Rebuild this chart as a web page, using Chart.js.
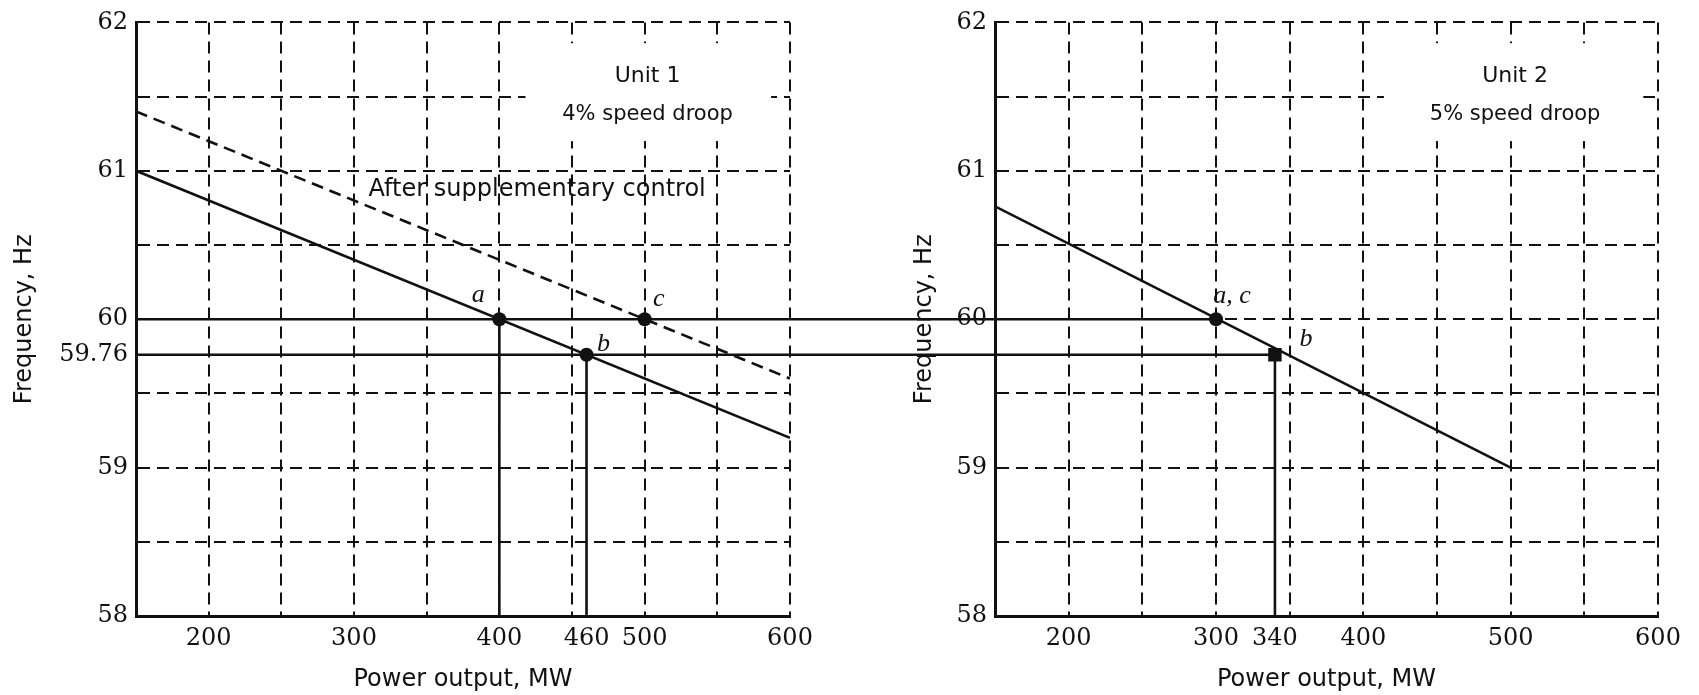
<!DOCTYPE html>
<html>
<head>
<meta charset="utf-8">
<script src="https://cdn.jsdelivr.net/npm/chart.js@4.4.1/dist/chart.umd.min.js"></script>
<style>
  html, body { margin: 0; padding: 0; background: #fff; }
  #wrap { position: relative; width: 1699px; height: 695px; overflow: hidden; background: #fff; }
  #c1 { position: absolute; left: 0; top: 0; }
  #c2 { position: absolute; left: 850px; top: 0; }
</style>
</head>
<body>
<div id="wrap">
  <canvas id="c1" width="995" height="695"></canvas>
  <canvas id="c2" width="849" height="695"></canvas>
</div>
<script>
// ---------------- data ----------------
const powerLimits = [150, 600];   // MW
const freqLimits = [58, 62];      // Hz
const gridPower = [150, 200, 250, 300, 350, 400, 450, 500, 550, 600];
const gridFreq = [58, 58.5, 59, 59.5, 60, 60.5, 61, 61.5, 62];

const unit1XTicks = [200, 300, 400, 460, 500, 600];
const unit1YTicks = [58, 59, 59.76, 60, 61, 62];
const unit2XTicks = [200, 300, 340, 400, 500, 600];
const unit2YTicks = [58, 59, 60, 61, 62];

const unit1DroopPower = [150, 600];
const unit1DroopFreq = [61.0, 59.2];
const unit1SuppPower = [150, 600];
const unit1SuppFreq = [61.4, 59.6];
const unit2DroopPower = [150, 500];
const unit2DroopFreq = [60.76, 59.0];

const nominalFreq = 60;
const newFreq = 59.76;

const unit1PointNames = ['a', 'b', 'c'];
const unit1PointPower = [400, 460, 500];
const unit1PointFreq = [60, 59.76, 60];
const unit1DropPower = [400, 460];
const unit1DropFreq = [60, 59.76];

const unit2PointNames = ['a, c', 'b'];
const unit2PointPower = [300, 340];
const unit2PointFreq = [60, 59.76];
const unit2DropPower = [340];
const unit2DropFreq = [59.76];

const unit1Name = 'Unit 1';
const unit1DroopText = '4% speed droop';
const unit1SuppText = 'After supplementary control';
const unit2Name = 'Unit 2';
const unit2DroopText = '5% speed droop';
const xTitle = 'Power output, MW';
const yTitle = 'Frequency, Hz';

// ---------------- styling ----------------
const INK = '#111';
const SERIF = '"DejaVu Serif", serif';
const SANS = '"DejaVu Sans", sans-serif';
const DASH = [12, 7];

function pts(xs, ys) { return xs.map((v, i) => ({ x: v, y: ys[i] })); }
function lineDs(data, dash) {
  return { type: 'line', data, borderColor: INK, borderWidth: 2.6, borderDash: dash || [],
           pointRadius: 0, showLine: true, fill: false, tension: 0, order: 2 };
}

const marksPlugin = {
  id: 'marks',
  beforeDatasetsDraw(chart, args, opts) {
    const { ctx } = chart; const x = chart.scales.x, y = chart.scales.y;
    ctx.save();
    (opts.boxes || []).forEach(b => {
      const x1 = x.getPixelForValue(b.x1), x2 = x.getPixelForValue(b.x2);
      const y1 = y.getPixelForValue(b.y2), y2 = y.getPixelForValue(b.y1);
      ctx.fillStyle = '#fff';
      ctx.fillRect(x1, y1, x2 - x1, y2 - y1);
    });
    (opts.notes || []).forEach(n => {
      ctx.font = n.font; ctx.fillStyle = INK; ctx.textAlign = n.align || 'center'; ctx.textBaseline = 'middle';
      ctx.fillText(n.text, x.getPixelForValue(n.x), y.getPixelForValue(n.y));
    });
    (opts.connectors || []).forEach(f => {
      const py = y.getPixelForValue(f);
      ctx.strokeStyle = INK; ctx.lineWidth = 2.6; ctx.setLineDash([]);
      ctx.beginPath(); ctx.moveTo(chart.chartArea.right, py); ctx.lineTo(chart.width, py); ctx.stroke();
    });
    ctx.restore();
  },
  afterDatasetsDraw(chart, args, opts) {
    const { ctx } = chart;
    const idx = chart.data.datasets.findIndex(d => d.pointNames);
    if (idx < 0) return;
    const ds = chart.data.datasets[idx];
    const meta = chart.getDatasetMeta(idx);
    ctx.save();
    ctx.font = 'italic 26px "Liberation Serif", serif';
    ctx.fillStyle = INK; ctx.textAlign = 'center'; ctx.textBaseline = 'middle';
    meta.data.forEach((el, i) => {
      const off = opts.labelOffsets[i];
      ctx.fillText(ds.pointNames[i], el.x + off[0], el.y + off[1]);
    });
    ctx.restore();
  }
};

function makeChart(canvasId, cfg) {
  const xTickVals = [...new Set([...gridPower, ...cfg.xLabels])].sort((a, b) => a - b);
  const yTickVals = [...new Set([...gridFreq, ...cfg.yLabels])].sort((a, b) => a - b);
  const gridColor = (vals, min) => (c) => {
    const v = c.tick ? c.tick.value : null;
    return (v !== null && v !== min && vals.includes(v)) ? INK : 'rgba(0,0,0,0)';
  };
  const datasets = cfg.lines.slice();
  cfg.drops.forEach(d => datasets.push(lineDs([{ x: d[0], y: d[1] }, { x: d[0], y: freqLimits[0] }])));
  datasets.push({
    type: 'scatter', data: pts(cfg.pointPower, cfg.pointFreq), pointNames: cfg.pointNames,
    pointRadius: cfg.pointRadii, pointStyle: cfg.pointStyles, backgroundColor: INK, borderColor: INK,
    borderWidth: 0, showLine: false, order: 1
  });
  return new Chart(document.getElementById(canvasId), {
    type: 'scatter',
    data: { datasets },
    plugins: [marksPlugin],
    options: {
      responsive: false, animation: false, devicePixelRatio: 1,
      layout: { padding: cfg.padding },
      plugins: { legend: { display: false }, tooltip: { enabled: false }, marks: cfg.marks },
      scales: {
        x: {
          type: 'linear', position: 'bottom', min: powerLimits[0], max: powerLimits[1],
          afterBuildTicks: s => { s.ticks = xTickVals.map(v => ({ value: v })); },
          afterFit: s => { s.height = cfg.xHeight; },
          ticks: { autoSkip: false, maxRotation: 0, padding: 8, color: INK,
                   font: { family: SERIF, size: 24 },
                   callback: v => cfg.xLabels.includes(v) ? String(v) : '' },
          grid: { drawTicks: false, lineWidth: 2, color: gridColor(gridPower, powerLimits[0]) },
          border: { display: true, color: INK, width: 3, dash: DASH },
          title: { display: true, text: xTitle, color: INK, font: { family: SANS, size: 24 },
                   padding: { top: 0, bottom: 1 } }
        },
        y: {
          type: 'linear', position: 'left', min: freqLimits[0], max: freqLimits[1],
          afterBuildTicks: s => { s.ticks = yTickVals.map(v => ({ value: v })); },
          afterFit: s => { s.width = cfg.yWidth; },
          ticks: { autoSkip: false, padding: 8, color: INK,
                   font: { family: SERIF, size: 24 },
                   callback: v => cfg.yLabels.includes(v) ? String(v) : '' },
          grid: { drawTicks: false, lineWidth: 2, color: gridColor(gridFreq, freqLimits[0]) },
          border: { display: true, color: INK, width: 3, dash: DASH },
          title: { display: true, text: yTitle, color: INK, font: { family: SANS, size: 24 },
                   padding: { top: 0, bottom: 0 } }
        }
      }
    }
  });
}

// ---------------- Unit 1 ----------------
makeChart('c1', {
  padding: { left: 10, top: 18, right: 205, bottom: 0 },
  yWidth: 126, xHeight: 79,
  xLabels: unit1XTicks, yLabels: unit1YTicks,
  lines: [
    lineDs(pts(unit1DroopPower, unit1DroopFreq)),
    lineDs(pts(unit1SuppPower, unit1SuppFreq), DASH),
    lineDs(pts(powerLimits, [nominalFreq, nominalFreq])),
    lineDs(pts(powerLimits, [newFreq, newFreq]))
  ],
  drops: unit1DropPower.map((p, i) => [p, unit1DropFreq[i]]),
  pointPower: unit1PointPower, pointFreq: unit1PointFreq, pointNames: unit1PointNames,
  pointStyles: ['circle', 'circle', 'circle'], pointRadii: [7, 7, 7],
  marks: {
    boxes: [{ x1: 418, x2: 587, y1: 61.2, y2: 61.86 }],
    notes: [
      { text: unit1Name, x: 502, y: 61.64, font: '22px ' + SANS },
      { text: unit1DroopText, x: 502, y: 61.38, font: '21px ' + SANS },
      { text: unit1SuppText, x: 310, y: 60.87, font: '24px ' + SANS, align: 'left' }
    ],
    connectors: [nominalFreq, newFreq],
    labelOffsets: [[-21, -24], [17, -11], [14, -20]]
  }
});

// ---------------- Unit 2 ----------------
makeChart('c2', {
  padding: { left: 60, top: 18, right: 41, bottom: 0 },
  yWidth: 85, xHeight: 79,
  xLabels: unit2XTicks, yLabels: unit2YTicks,
  lines: [
    lineDs(pts(unit2DroopPower, unit2DroopFreq)),
    lineDs(pts([powerLimits[0], unit2PointPower[0]], [nominalFreq, nominalFreq])),
    lineDs(pts([powerLimits[0], unit2PointPower[1]], [newFreq, newFreq]))
  ],
  drops: unit2DropPower.map((p, i) => [p, unit2DropFreq[i]]),
  pointPower: unit2PointPower, pointFreq: unit2PointFreq, pointNames: unit2PointNames,
  pointStyles: ['circle', 'rect'], pointRadii: [7, 9.5],
  marks: {
    boxes: [{ x1: 414, x2: 590, y1: 61.2, y2: 61.86 }],
    notes: [
      { text: unit2Name, x: 503, y: 61.64, font: '22px ' + SANS },
      { text: unit2DroopText, x: 503, y: 61.38, font: '21px ' + SANS }
    ],
    labelOffsets: [[16, -23], [31, -16]]
  }
});
</script>
</body>
</html>
